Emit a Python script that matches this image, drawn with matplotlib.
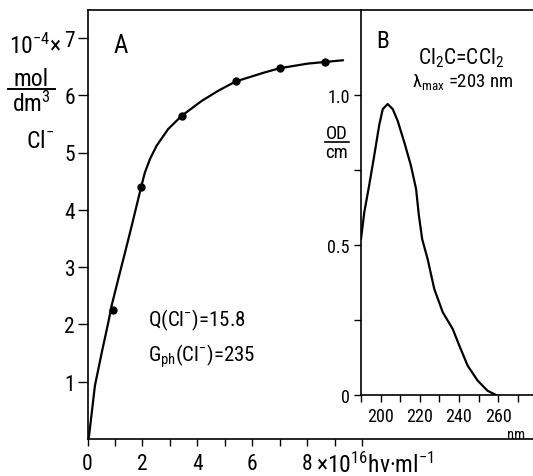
import matplotlib
matplotlib.use("Agg")
import matplotlib.pyplot as plt
from matplotlib import font_manager
from matplotlib.lines import Line2D
from matplotlib.ticker import FixedLocator

# ---- font choice ----
FONT = "DejaVu Sans"
for cand in ["Roboto Condensed", "Liberation Sans Narrow", "DejaVu Sans Condensed"]:
    try:
        font_manager.findfont(cand, fallback_to_default=False)
        FONT = cand
        break
    except Exception:
        pass
plt.rcParams["font.family"] = [FONT, "DejaVu Sans"]
plt.rcParams["mathtext.fontset"] = "custom"
plt.rcParams["mathtext.rm"] = FONT
plt.rcParams["mathtext.it"] = FONT

# ---- data: panel A ----
dose_pts = [0.94, 1.95, 3.43, 5.40, 7.0, 8.65]
cl_pts = [2.26, 4.39, 5.64, 6.24, 6.47, 6.58]
curve_x = [0, 0.05, 0.27, 0.52, 0.76, 0.88, 1.12, 1.37, 1.61, 1.95, 2.09,
           2.28, 2.52, 2.94, 3.43, 4.16, 4.77, 5.40, 6.47, 7.0, 8.0, 8.65, 9.31]
curve_y = [0, 0.03, 0.93, 1.51, 2.04, 2.33, 2.79, 3.26, 3.72, 4.39, 4.65,
           4.89, 5.12, 5.41, 5.64, 5.90, 6.08, 6.24, 6.40, 6.47, 6.55, 6.58, 6.61]
xticks_A = [0, 2, 4, 6, 8]
xtick_labels_A = ["0", "2", "4", "6", "8"]
yticks_A = [1, 2, 3, 4, 5, 6, 7]

# ---- data: panel B ----
wl = [190, 191.7, 194.2, 196.8, 199.3, 201.1, 203.6, 206.2, 208.7, 212.1,
      215.5, 218.1, 219.5, 221.2, 224, 227.4, 231.7, 236.8, 240.2, 244.4,
      249.5, 254.6, 258.9]
od = [0.52, 0.61, 0.70, 0.80, 0.90, 0.953, 0.97, 0.953, 0.914, 0.842,
      0.764, 0.687, 0.60, 0.52, 0.453, 0.353, 0.276, 0.22, 0.164, 0.098,
      0.048, 0.014, 0.0]
xticks_B = [200, 220, 240, 260]
yticks_B = [0, 0.5, 1.0]
ytick_labels_B = ["0", "0.5", "1.0"]

W, H = 533, 477
fig = plt.figure(figsize=(W / 100, H / 100), dpi=100)

def box(l, t, r, b):
    return [l / W, 1 - b / H, (r - l) / W, (b - t) / H]

def fx(px):
    return px / W

def fy(py):
    return 1 - py / H

LW = 1.6
SW = 1.2

# Panel A
axA = fig.add_axes(box(87.5, 11, 533, 440))
axA.plot(curve_x, curve_y, color="black", lw=LW, solid_capstyle="round",
         solid_joinstyle="round")
axA.plot(dose_pts, cl_pts, "o", color="black", ms=5)
axA.set_xlim(0, (533 - 87.5) / 27.45)
axA.set_ylim(0, (440 - 11) / 57.3)
axA.spines["right"].set_visible(False)
for s in ["top", "bottom", "left"]:
    axA.spines[s].set_linewidth(SW)
axA.xaxis.set_major_locator(FixedLocator(xticks_A))
axA.set_xticklabels(xtick_labels_A)
axA.xaxis.set_minor_locator(FixedLocator([1, 3, 5, 7, 9, 10]))
axA.set_yticks(yticks_A)
axA.set_yticklabels([str(v) for v in yticks_A])
axA.tick_params(axis="both", which="both", direction="out", width=1.0,
                labelsize=15.5)
axA.tick_params(axis="x", which="both", length=5, pad=5)
axA.tick_params(axis="y", which="both", length=7, pad=2)
fig.text(fx(121), fy(46), "A", fontsize=18, ha="center", va="center")
fig.text(fx(148), fy(320), "Q(Cl$^{-}$)=15.8", fontsize=15,
         ha="left", va="center")
fig.text(fx(148), fy(356), "G$_{\\mathrm{ph}}$(Cl$^{-}$)=235", fontsize=15,
         ha="left", va="center")

# y label pieces for A
fig.text(fx(9), fy(46), "10$^{-4}$×", fontsize=17, ha="left", va="center")
fig.text(fx(31), fy(79), "mol", fontsize=17, ha="center", va="center")
fig.add_artist(Line2D([fx(8), fx(55)], [fy(90), fy(90)],
                      color="black", lw=1.4, transform=fig.transFigure))
fig.text(fx(31), fy(104), "dm$^{3}$", fontsize=17, ha="center", va="center")
fig.text(fx(40), fy(142), "Cl$^{-}$", fontsize=17, ha="center", va="center")

# x label for A
fig.text(fx(316), fy(473), "×10$^{16}$hν·ml$^{-1}$", fontsize=17,
         ha="left", va="baseline")

# Panel B
axB = fig.add_axes(box(361, 11, 533, 396))
axB.patch.set_alpha(0)
axB.plot(wl, od, color="black", lw=LW, solid_joinstyle="round")
axB.set_xlim(190, 190 + (533 - 361) / 1.96)
axB.set_ylim(0, (396 - 11) / 300)
axB.spines["right"].set_visible(False)
axB.spines["top"].set_visible(False)
for s in ["bottom", "left"]:
    axB.spines[s].set_linewidth(SW)
axB.set_xticks(xticks_B)
axB.set_xticklabels([str(v) for v in xticks_B])
axB.xaxis.set_minor_locator(FixedLocator([190, 210, 230, 250, 270]))
axB.set_yticks(yticks_B)
axB.set_yticklabels(ytick_labels_B)
axB.yaxis.set_minor_locator(FixedLocator([0.25, 0.75]))
axB.tick_params(axis="both", which="both", direction="out", width=1.0,
                labelsize=13, length=5)
axB.tick_params(axis="x", pad=4)
axB.tick_params(axis="y", pad=3)
fig.text(fx(383), fy(42), "B", fontsize=17, ha="center", va="center")
fig.text(fx(461), fy(58), "Cl$_{2}$C=CCl$_{2}$", fontsize=15.5,
         ha="center", va="center")
fig.text(fx(463), fy(82), "λ$_{\\mathrm{max}}$ =203 nm", fontsize=13.5,
         ha="center", va="center")
fig.text(fx(516), fy(435), "nm", fontsize=10.5, ha="center", va="center")
fig.text(fx(337), fy(134), "OD", fontsize=13.5, ha="center", va="center")
fig.add_artist(Line2D([fx(325), fx(349)], [fy(143), fy(143)],
                      color="black", lw=1.2, transform=fig.transFigure))
fig.text(fx(337), fy(153), "cm", fontsize=13.5, ha="center", va="center")

fig.savefig("out.png", dpi=100)
